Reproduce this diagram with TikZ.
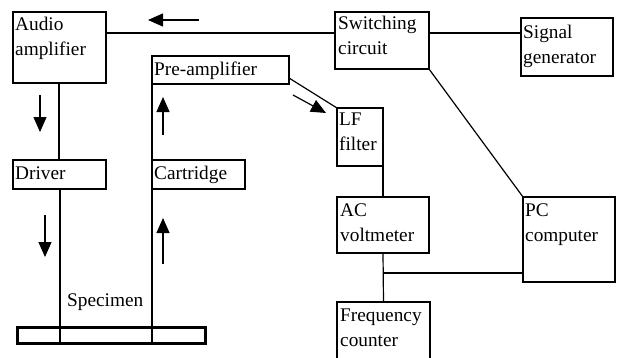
\documentclass[tikz,border=0pt]{standalone}
\usepackage{fontspec}
\setmainfont{Liberation Serif}
\usetikzlibrary{arrows.meta}
\begin{document}
\begin{tikzpicture}[x=1pt,y=-1pt,
  box/.style={draw, line width=1.3pt, inner sep=0pt, outer sep=0pt, anchor=north west},
  txt/.style={font=\fontsize{19.3}{25}\selectfont, align=left, inner sep=0pt, anchor=base west},
  conn/.style={line width=1.2pt},
  flow/.style={line width=1.2pt, -{Triangle[length=15pt,width=13pt]}}]
\useasboundingbox (0,0) rectangle (618,357);
\clip (0,0) rectangle (618,357);
% boxes
\node[box, minimum width=93pt, minimum height=71pt] (aa) at (13,12) {};
\node[box, minimum width=137pt, minimum height=28pt] (pre) at (152,56) {};
\node[box, minimum width=93pt, minimum height=29pt] (drv) at (13,160) {};
\node[box, minimum width=93pt, minimum height=29pt] (cart) at (152,160) {};
\node[box, minimum width=94pt, minimum height=57pt] (sw) at (335,12) {};
\node[box, minimum width=92pt, minimum height=58pt] (sig) at (521,18) {};
\node[box, minimum width=46pt, minimum height=58pt] (lf) at (337,108) {};
\node[box, minimum width=92pt, minimum height=56pt] (ac) at (337,197) {};
\node[box, minimum width=92pt, minimum height=85pt] (pc) at (523,197) {};
\node[box, minimum width=93pt, minimum height=80pt] (fc) at (337,302) {};
\node[box, line width=3pt, minimum width=188pt, minimum height=16pt] (bar) at (17,327) {};
% texts (anchor = baseline of last line)
\node[txt] (taa) at (15,55) {Audio\\amplifier};
\node[txt] (tpre) at (154,75) {Pre-amplifier};
\node[txt] (tdrv) at (15,179) {Driver};
\node[txt] (tcart) at (154,179) {Cartridge};
\node[txt] (tsw) at (338,54) {Switching\\circuit};
\node[txt] (tsig) at (523,63) {Signal\\generator};
\node[txt] (tlf) at (339,150) {LF\\filter};
\node[txt] (tac) at (340,241) {AC\\voltmeter};
\node[txt] (tpc) at (525,241) {PC\\computer};
\node[txt] (tfc) at (340,346) {Frequency\\counter};
\node[txt] (tspec) at (67,306) {Specimen};
% connectors
\draw[conn] (aa.east |- 0,33) -- (sw.west |- 0,33);
\draw[conn] (sw.east |- 0,33) -- (sig.west |- 0,33);
\draw[conn] (aa.south -| 59,0) -- (drv.north -| 59,0);
\draw[conn] (pre.south west) -- (cart.north west);
\draw[conn] (drv.south -| 60,0) -- (bar.south -| 60,0);
\draw[conn] (cart.south west) -- (bar.south -| cart.west);
\draw[conn] (pre.east |- 0,78) -- (lf.north west);
\draw[conn] (sw.south east) -- (pc.north west);
\draw[conn] (lf.south east) -- (ac.north);
\draw[conn] (ac.south) -- (fc.north);
\draw[conn] (ac.south |- 0,273) -- (pc.west |- 0,273);
% flow arrows
\coordinate (a1s) at (199,20); \coordinate (a1e) at (148,20);
\coordinate (a2s) at (40,95);  \coordinate (a2e) at (40,132);
\coordinate (a3s) at (163,135); \coordinate (a3e) at (163,97);
\coordinate (a4s) at (45,215); \coordinate (a4e) at (45,257);
\coordinate (a5s) at (163,264); \coordinate (a5e) at (163,218);
\coordinate (a6s) at (293,95); \coordinate (a6e) at (326,113);
\draw[flow] (a1s) -- (a1e);
\draw[flow] (a2s) -- (a2e);
\draw[flow] (a3s) -- (a3e);
\draw[flow] (a4s) -- (a4e);
\draw[flow] (a5s) -- (a5e);
\draw[flow] (a6s) -- (a6e);
\end{tikzpicture}
\end{document}
